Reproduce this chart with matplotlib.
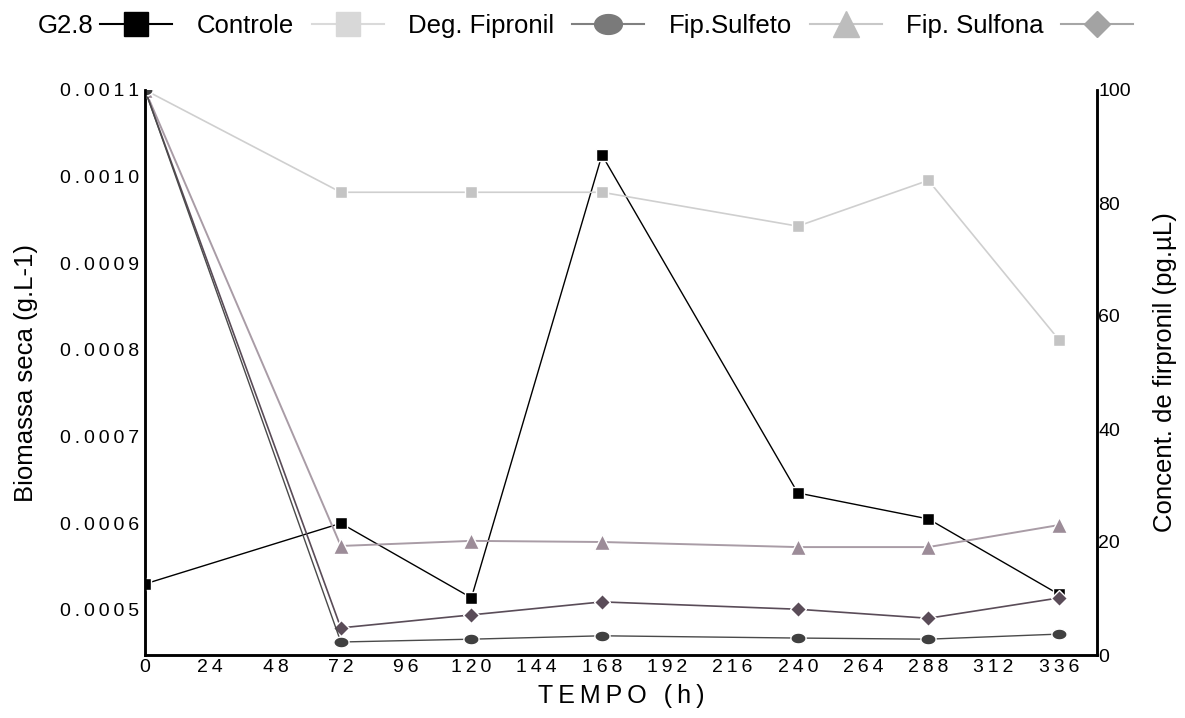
import numpy as np
import matplotlib
matplotlib.use('Agg')
import matplotlib.pyplot as plt
from matplotlib.lines import Line2D
from matplotlib.path import Path
from matplotlib.ticker import FuncFormatter

plt.rcParams['font.family'] = ['Liberation Sans', 'DejaVu Sans']

# horas de cultivo
tempo = [0, 72, 120, 168, 240, 288, 336]

# biomassa seca (g.L-1), eixo da esquerda
controle = [0.000530, 0.000600, 0.000514, 0.001025, 0.000635, 0.000605, 0.000518]

# concentracoes (pg.uL), eixo da direita
deg_fipronil = [100, 81.9, 81.9, 81.9, 75.9, 84.0, 55.8]
fip_sulfeto = [100, 2.3, 2.8, 3.4, 3.0, 2.8, 3.7]
fip_sulfona = [100, 19.3, 20.2, 20.0, 19.1, 19.1, 23.0]
fip_quarto = [100, 4.8, 7.1, 9.4, 8.1, 6.5, 10.1]

xticks = list(range(0, 337, 24))
left_ticks = [0.0005, 0.0006, 0.0007, 0.0008, 0.0009, 0.0010, 0.0011]
right_ticks = [0, 20, 40, 60, 80, 100]

TS = '\u2009'  # thin space, the original has wide letter spacing


def spaced(s):
    return TS.join(s)


t = np.linspace(0, 2 * np.pi, 40)
ellipse = Path(np.column_stack([1.4 * np.cos(t), np.sin(t)]))

fig = plt.figure(figsize=(11.85, 7.18), dpi=100)
ax = fig.add_axes([145 / 1185, 1 - 655 / 718, (1097 - 145) / 1185, (655 - 90) / 718])
ax2 = ax.twinx()

ax.plot(tempo, controle, color='black', lw=1, marker='s', ms=8, mfc='black',
        mec='white', mew=1, zorder=5)

ax2.plot(tempo, deg_fipronil, color='#cfcfcf', lw=1.2, marker='s', ms=8,
         mfc='#c4c4c4', mec='white', mew=1)
ax2.plot(tempo, fip_sulfona, color='#a99ca6', lw=1.4, marker='^', ms=11,
         mfc='#9c8c98', mec='white', mew=1)
ax2.plot(tempo, fip_quarto, color='#5a4c58', lw=1.2, marker='D', ms=8,
         mfc='#5a4c58', mec='white', mew=1)
ax2.plot(tempo, fip_sulfeto, color='#4a4a4a', lw=1, marker=ellipse, ms=11,
         mfc='#404040', mec='white', mew=1)

ax.set_xlim(0, 350)
ax.set_ylim(0.000448, 0.0011)
ax2.set_ylim(0, 100)

ax.set_xticks(xticks)
ax.xaxis.set_major_formatter(FuncFormatter(lambda v, p: spaced(str(int(v)))))
ax.set_yticks(left_ticks)
ax.yaxis.set_major_formatter(FuncFormatter(lambda v, p: spaced('%.4f' % v)))
ax2.set_yticks(right_ticks)

ax.tick_params(axis='both', length=0, labelsize=14)
ax.tick_params(axis='y', pad=4)
ax.tick_params(axis='x', pad=3)
ax2.tick_params(axis='y', length=0, labelsize=14, pad=1)

for a in (ax, ax2):
    a.spines['top'].set_visible(False)
    for s in ('left', 'right', 'bottom'):
        a.spines[s].set_linewidth(1.8)

ax.set_xlabel(spaced('TEMPO') + TS + ' ' + TS + spaced('(h)'), fontsize=18, labelpad=6)
ax.set_ylabel('Biomassa seca (g.L-1)', fontsize=18.5, labelpad=16)
ax2.set_ylabel('Concent. de firpronil (pg.µL)', fontsize=18.5, labelpad=16)

# legenda no topo (a ultima entrada fica cortada na borda da figura)
handles = [
    Line2D([], [], color='black', lw=1.5, marker='s', ms=17, mfc='black', mec='black'),
    Line2D([], [], color='#dadada', lw=1.5, marker='s', ms=17, mfc='#d8d8d8', mec='#d8d8d8'),
    Line2D([], [], color='#808080', lw=1.5, marker=ellipse, ms=20, mfc='#7a7a7a', mec='#7a7a7a'),
    Line2D([], [], color='#c8c8c8', lw=1.5, marker='^', ms=19, mfc='#bdbdbd', mec='#bdbdbd'),
    Line2D([], [], color='#a6a6a6', lw=1.5, marker='D', ms=13, mfc='#a3a3a3', mec='#a3a3a3'),
]
labels = ['Controle', 'Deg. Fipronil', 'Fip.Sulfeto', 'Fip. Sulfona', '']

fig.text(38 / 1185, 1 - 26 / 718, 'G2.8', fontsize=18.5, va='center', ha='left')
fig.legend(handles, labels, ncol=5, loc='center left',
           bbox_to_anchor=(100 / 1185, 1 - 26 / 718), frameon=False,
           fontsize=18.5, handlelength=2.8, handletextpad=0.95,
           columnspacing=0.7, borderpad=0, borderaxespad=0)

fig.savefig('out.png', dpi=100)
